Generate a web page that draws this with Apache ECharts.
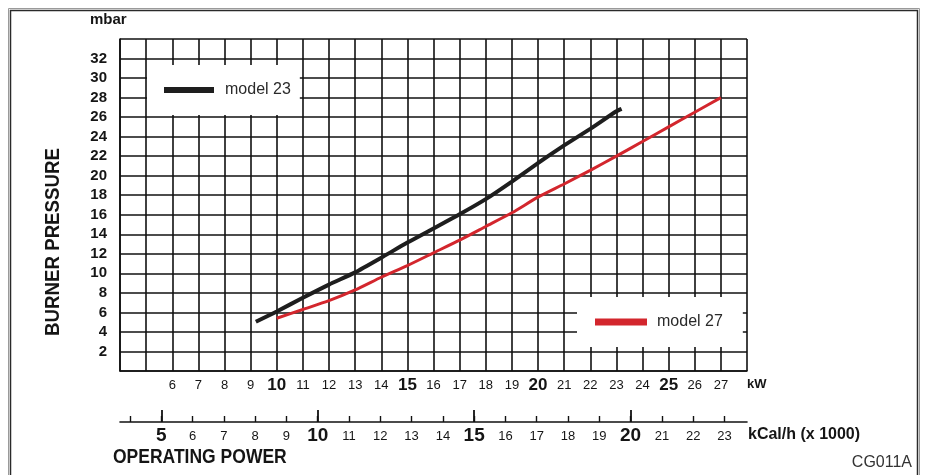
<!DOCTYPE html>
<html>
<head>
<meta charset="utf-8">
<title>Burner pressure vs operating power</title>
<script src="https://cdn.jsdelivr.net/npm/echarts@6/dist/echarts.min.js"></script>
<style>
  html, body { margin: 0; padding: 0; background: #ffffff; }
  #chart { width: 927px; height: 475px; }
</style>
</head>
<body>
<div id="chart"></div>
<script>
// Burner pressure curves (mbar) against heat output (kW)
const seriesNames = ['model 23', 'model 27'];
const model23Power    = [9.2, 10,  11,  12,   13,   14,   15,    16,   17,    18,   19,   20,   21,   22,   23,   23.2];
const model23Pressure = [5.05, 6.1, 7.5, 8.85, 10.1, 11.6, 13.15, 14.6, 16.05, 17.6, 19.4, 21.3, 23.1, 24.8, 26.6, 26.85];
const model27Power    = [10,  11,  12,  13,  14,  15,   16,   17,   18,   19,   20,   21,    22,    23,   24,   25,   26,   27];
const model27Pressure = [5.4, 6.3, 7.2, 8.3, 9.6, 10.8, 12.1, 13.4, 14.8, 16.2, 17.8, 19.15, 20.55, 22.0, 23.5, 25.0, 26.5, 28.0];

// Axis ticks and labels
const pressureLabels = [2, 4, 6, 8, 10, 12, 14, 16, 18, 20, 22, 24, 26, 28, 30, 32];
const kwLabels   = [6, 7, 8, 9, 10, 11, 12, 13, 14, 15, 16, 17, 18, 19, 20, 21, 22, 23, 24, 25, 26, 27];
const kwBold     = [10, 15, 20, 25];
const kcalTicks  = [4, 5, 6, 7, 8, 9, 10, 11, 12, 13, 14, 15, 16, 17, 18, 19, 20, 21, 22, 23];
const kcalLabels = [5, 6, 7, 8, 9, 10, 11, 12, 13, 14, 15, 16, 17, 18, 19, 20, 21, 22, 23];
const kcalBold   = [5, 10, 15, 20];

const FONT = '"Liberation Sans", Arial, Helvetica, sans-serif';
const INK = '#151515';
const GRID_LINE = { color: '#111111', width: 1.6 };

const zip = (xs, ys) => xs.map((x, i) => [x, ys[i]]);

const chart = echarts.init(document.getElementById('chart'), null, { renderer: 'canvas' });

const option = {
  backgroundColor: '#ffffff',
  animation: false,
  textStyle: { fontFamily: FONT },
  grid: [
    { left: 120, top: 39, width: 627, height: 332 },
    { left: 120, top: 400, width: 627, height: 22 }
  ],
  xAxis: [
    {
      type: 'value', gridIndex: 0, position: 'bottom', min: 4, max: 28, interval: 1,
      axisLine: { show: true, onZero: false, lineStyle: GRID_LINE },
      axisTick: { show: false },
      splitLine: { show: true, lineStyle: GRID_LINE },
      axisLabel: {
        margin: 14, verticalAlign: 'middle', color: INK, fontFamily: FONT,
        formatter: v => kwLabels.includes(v) ? (kwBold.includes(v) ? '{b|' + v + '}' : '{n|' + v + '}') : '',
        rich: {
          n: { fontSize: 13, color: INK, fontFamily: FONT },
          b: { fontSize: 17, fontWeight: 'bold', color: INK, fontFamily: FONT }
        }
      }
    },
    {
      type: 'value', gridIndex: 1, position: 'bottom', min: 3.68, max: 23.72,
      axisLine: { show: true, onZero: false, lineStyle: GRID_LINE },
      axisTick: { show: true, inside: true, length: 6, customValues: kcalTicks, lineStyle: { color: '#111', width: 1.4 } },
      splitLine: { show: false },
      axisLabel: {
        customValues: kcalLabels,
        margin: 14, verticalAlign: 'middle', color: INK, fontFamily: FONT,
        formatter: v => kcalBold.includes(v) ? '{b|' + v + '}' : '{n|' + v + '}',
        rich: {
          n: { fontSize: 13, color: INK, fontFamily: FONT },
          b: { fontSize: 19, fontWeight: 'bold', color: INK, fontFamily: FONT }
        }
      }
    },
    {
      // longer ticks at every fifth thousand kCal/h
      type: 'value', gridIndex: 1, position: 'bottom', min: 3.68, max: 23.72,
      axisLine: { show: false, onZero: false },
      axisTick: { show: true, inside: true, length: 12, customValues: kcalBold, lineStyle: { color: '#111', width: 1.8 } },
      splitLine: { show: false },
      axisLabel: { show: false }
    }
  ],
  yAxis: [
    {
      type: 'value', gridIndex: 0, min: 0, max: 34, interval: 2,
      axisLine: { show: true, onZero: false, lineStyle: GRID_LINE },
      axisTick: { show: false },
      splitLine: { show: true, lineStyle: GRID_LINE },
      axisLabel: {
        margin: 13, color: INK, fontFamily: FONT, fontSize: 15, fontWeight: 'bold',
        formatter: v => pressureLabels.includes(v) ? String(v) : ''
      }
    },
    { type: 'value', gridIndex: 1, min: 0, max: 1, show: false }
  ],
  legend: [
    {
      data: [seriesNames[0]], left: 147, top: 65,
      padding: [17, 9, 17, 17], backgroundColor: '#ffffff',
      icon: 'rect', itemWidth: 50, itemHeight: 6, selectedMode: false,
      textStyle: { fontSize: 16, color: '#2a2a2a', fontFamily: FONT, padding: [0, 0, 0, 6] }
    },
    {
      data: [seriesNames[1]], left: 577, top: 297,
      padding: [17, 20, 17, 18], backgroundColor: '#ffffff',
      icon: 'rect', itemWidth: 52, itemHeight: 7, selectedMode: false,
      textStyle: { fontSize: 16, color: '#2a2a2a', fontFamily: FONT, padding: [0, 0, 0, 5] }
    }
  ],
  series: [
    {
      name: seriesNames[0], type: 'line', xAxisIndex: 0, yAxisIndex: 0,
      data: zip(model23Power, model23Pressure),
      symbol: 'none', smooth: 0.2, z: 3,
      lineStyle: { color: '#1e1e1e', width: 4 }, itemStyle: { color: '#1e1e1e' }
    },
    {
      name: seriesNames[1], type: 'line', xAxisIndex: 0, yAxisIndex: 0,
      data: zip(model27Power, model27Pressure),
      symbol: 'none', smooth: 0.2, z: 3,
      lineStyle: { color: '#d3262d', width: 3 }, itemStyle: { color: '#d3262d' }
    }
  ],
  graphic: [
    // page frame
    { type: 'rect', silent: true, shape: { x: 8.5, y: 8.5, width: 911, height: 490 },
      style: { fill: 'none', stroke: '#9a9a9a', lineWidth: 1 } },
    { type: 'rect', silent: true, shape: { x: 10.5, y: 10.5, width: 907, height: 490 },
      style: { fill: 'none', stroke: '#2a2a2a', lineWidth: 1.5 } },
    // captions
    { type: 'text', silent: true, x: 90, y: 20,
      style: { text: 'mbar', fill: INK, font: 'bold 15px ' + FONT, align: 'left', verticalAlign: 'middle' } },
    { type: 'text', silent: true, x: 53, y: 242, rotation: Math.PI / 2, scaleX: 0.89,
      style: { text: 'BURNER PRESSURE', fill: INK, font: 'bold 21px ' + FONT, align: 'center', verticalAlign: 'middle' } },
    { type: 'text', silent: true, x: 113, y: 457, scaleX: 0.875,
      style: { text: 'OPERATING POWER', fill: INK, font: 'bold 20px ' + FONT, align: 'left', verticalAlign: 'middle' } },
    { type: 'text', silent: true, x: 747, y: 384,
      style: { text: 'kW', fill: INK, font: 'bold 13px ' + FONT, align: 'left', verticalAlign: 'middle' } },
    { type: 'text', silent: true, x: 748, y: 435,
      style: { text: 'kCal/h (x 1000)', fill: INK, font: 'bold 16px ' + FONT, align: 'left', verticalAlign: 'middle' } },
    { type: 'text', silent: true, x: 912, y: 463,
      style: { text: 'CG011A', fill: '#333333', font: '16px ' + FONT, align: 'right', verticalAlign: 'middle' } }
  ]
};

chart.setOption(option);
</script>
</body>
</html>
